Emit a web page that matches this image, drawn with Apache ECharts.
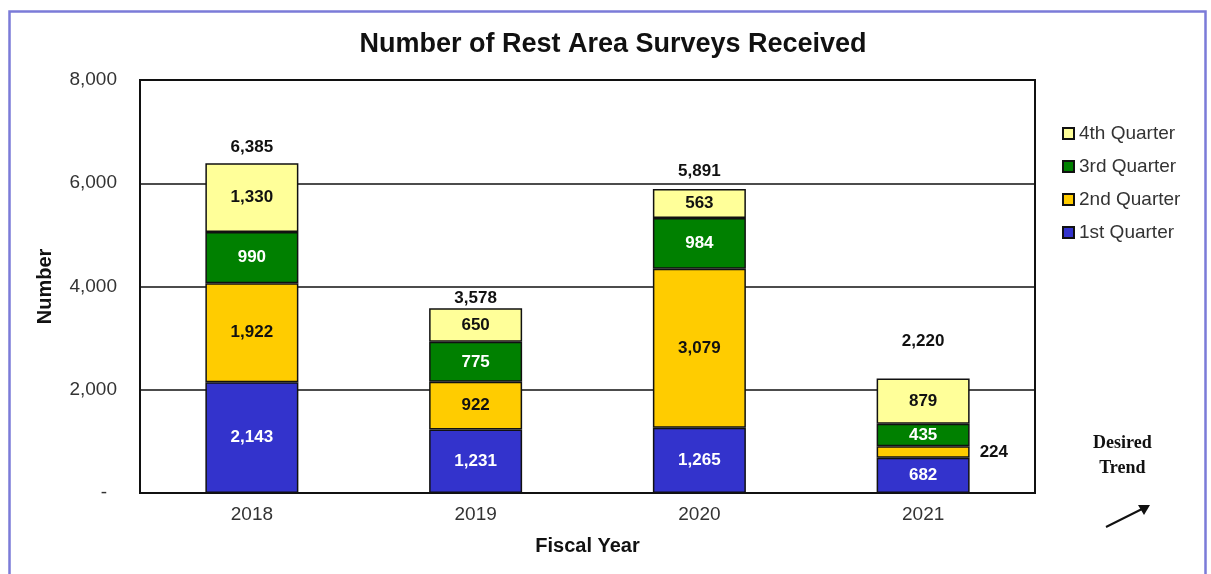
<!DOCTYPE html>
<html>
<head>
<meta charset="utf-8">
<title>Number of Rest Area Surveys Received</title>
<script src="https://cdn.jsdelivr.net/npm/echarts@6/dist/echarts.min.js"></script>
<style>
  html, body { margin: 0; padding: 0; background: #fff; }
  #chart { width: 1211px; height: 574px; }
</style>
</head>
<body>
<div id="chart"></div>
<script>
// Fiscal years on the category axis
const years = ['2018', '2019', '2020', '2021'];

// Surveys received per quarter
const q1 = [2143, 1231, 1265, 682];
const q2 = [1922, 922, 3079, 224];
const q3 = [990, 775, 984, 435];
const q4 = [1330, 650, 563, 879];

const seriesNames = ['1st Quarter', '2nd Quarter', '3rd Quarter', '4th Quarter'];
const yTicks = [0, 2000, 4000, 6000, 8000];

const totals = years.map((_, i) => q1[i] + q2[i] + q3[i] + q4[i]);

const FONT = "'Liberation Sans', Arial, sans-serif";
const fmt = v => v.toLocaleString('en-US');

function barSeries(name, data, color, labelColor) {
  return {
    name: name,
    type: 'bar',
    stack: 'total',
    barWidth: 93,
    data: data,
    itemStyle: { color: color, borderColor: '#111', borderWidth: 1.5 },
    label: {
      show: true,
      position: 'inside',
      color: labelColor,
      fontFamily: FONT,
      fontSize: 17,
      fontWeight: 'bold',
      formatter: p => fmt(p.value)
    }
  };
}

// The thin 2nd-quarter slice of 2021 carries its label beside the bar
const q2Data = q2.map((v, i) => i === 3
  ? { value: v, label: { position: 'right', distance: 10, color: '#111' } }
  : v);

// Label gap above each stack for the total
const totalGap = [8, 1, 9, 29];

const chart = echarts.init(document.getElementById('chart'), null, { renderer: 'canvas' });

chart.setOption({
  animation: false,
  backgroundColor: '#fff',
  title: {
    text: 'Number of Rest Area Surveys Received',
    left: 608,
    textAlign: 'center',
    top: 26,
    textStyle: { fontFamily: FONT, fontSize: 27, fontWeight: 'bold', color: '#111' }
  },
  legend: {
    orient: 'vertical',
    left: 1062,
    top: 124,
    padding: 0,
    icon: 'rect',
    itemWidth: 11,
    itemHeight: 11,
    itemGap: 14,
    data: seriesNames.slice().reverse(),
    textStyle: { fontFamily: FONT, fontSize: 19, color: '#333', lineHeight: 19 }
  },
  grid: {
    left: 140,
    right: 176,
    top: 80,
    bottom: 81,
    show: true,
    borderColor: '#111',
    borderWidth: 2
  },
  xAxis: {
    type: 'category',
    data: years,
    name: 'Fiscal Year',
    nameLocation: 'middle',
    nameGap: 43,
    nameTextStyle: { fontFamily: FONT, fontSize: 20, fontWeight: 'bold', color: '#111' },
    axisLine: { show: true, lineStyle: { color: '#111', width: 2 } },
    axisTick: { show: false },
    axisLabel: { margin: 12, fontFamily: FONT, fontSize: 19, color: '#333' }
  },
  yAxis: {
    type: 'value',
    min: yTicks[0],
    max: yTicks[yTicks.length - 1],
    interval: yTicks[1] - yTicks[0],
    name: 'Number',
    nameLocation: 'middle',
    nameGap: 85,
    nameTextStyle: { fontFamily: FONT, fontSize: 20, fontWeight: 'bold', color: '#111' },
    axisLine: { show: true, lineStyle: { color: '#111', width: 2 } },
    axisTick: { show: false },
    splitLine: { show: true, lineStyle: { color: '#111', width: 1.5 } },
    axisLabel: {
      margin: 23,
      fontFamily: FONT,
      fontSize: 19,
      color: '#333',
      formatter: v => v === 0 ? '{dash|-}' : fmt(v),
      rich: { dash: { fontFamily: FONT, fontSize: 19, color: '#333', padding: [0, 10, 0, 0] } }
    }
  },
  series: [
    barSeries(seriesNames[0], q1, '#3333cc', '#fff'),
    barSeries(seriesNames[1], q2Data, '#ffcc00', '#111'),
    barSeries(seriesNames[2], q3, '#008000', '#fff'),
    barSeries(seriesNames[3], q4, '#ffff99', '#111'),
    {
      // stack totals, shown as labels only
      name: 'Total',
      type: 'scatter',
      symbolSize: 0,
      itemStyle: { color: '#111', opacity: 1 },
      z: 10,
      data: totals.map((t, i) => ({
        value: t,
        label: { distance: totalGap[i] }
      })),
      label: {
        show: true,
        position: 'top',
        color: '#111',
        opacity: 1,
        fontFamily: FONT,
        fontSize: 17,
        fontWeight: 'bold',
        formatter: p => fmt(p.value)
      }
    }
  ],
  graphic: [
    {
      type: 'rect',
      silent: true,
      shape: { x: 9.5, y: 11.5, width: 1196, height: 640 },
      style: { fill: 'none', stroke: '#7b7bd8', lineWidth: 2.5 }
    },
    {
      type: 'text',
      left: 1093,
      top: 431,
      style: {
        text: 'Desired\nTrend',
        fontFamily: "'Liberation Serif', 'Times New Roman', serif",
        fontSize: 18,
        fontWeight: 'bold',
        lineHeight: 25,
        fill: '#111',
        textAlign: 'center',
        x: 0
      }
    },
    {
      type: 'line',
      silent: true,
      shape: { x1: 1106, y1: 527, x2: 1143, y2: 508.5 },
      style: { stroke: '#111', lineWidth: 2 }
    },
    {
      type: 'polygon',
      silent: true,
      shape: { points: [[1150, 505], [1138, 505], [1144, 515]] },
      style: { fill: '#111' }
    }
  ]
});
</script>
</body>
</html>
